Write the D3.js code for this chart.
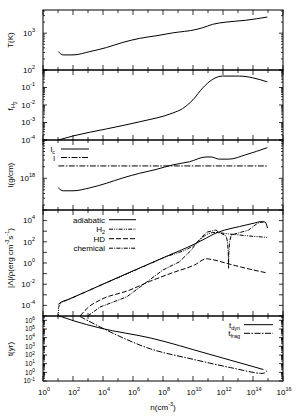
<!DOCTYPE html>
<html>
<head>
<meta charset="utf-8">
<script src="https://cdn.jsdelivr.net/npm/d3@7"></script>
<style>
  body { margin: 0; background: #fff; }
  text { font-family: "Liberation Sans", Arial, sans-serif; fill: #000; }
</style>
</head>
<body>
<svg id="chart" width="302" height="420"></svg>
<script>
// density grid n (cm^-3) and values, one pair of arrays per curve

// temperature
const tempN = [10.5, 22, 1e2, 1.3e3, 1.7e4, 2.1e5, 2.8e6, 3.5e7, 4.5e8, 1.6e10, 4.5e10, 2e11, 1.6e12, 3.2e13, 9e14];
const tempK = [316, 257, 257, 316, 407, 562, 724, 851, 1020, 1260, 1410, 1740, 2000, 2240, 2750];

// H2 fraction
const fracN = [10.5, 1e2, 1.7e4, 2.8e6, 4.5e8, 2e9, 1e10, 4.5e10, 2e11, 9.3e11, 1.3e13, 9.3e13, 9e14];
const fracH2 = [1e-4, 1.7e-4, 4.3e-4, 1.1e-3, 3.5e-3, 6.2e-3, 2.0e-2, 9.5e-2, 0.29, 0.45, 0.45, 0.36, 0.21];

// line masses
const lcN = [10.5, 22, 1e2, 1.3e3, 1.7e4, 2.1e5, 2.8e6, 3.5e7, 4.5e8, 5.8e9, 7.4e10, 1.6e11, 5.6e11, 2.5e12, 3.2e13, 9e14];
const lcVal = [5.6e17, 4.7e17, 4.7e17, 5.6e17, 7.4e17, 1.02e18, 1.35e18, 1.7e18, 2.24e18, 2.7e18, 3.6e18, 3.6e18, 3.16e18, 3.16e18, 4.1e18, 6.3e18];
const lN = [10.5, 9e14];
const lVal = [2.1e18, 2.1e18];

// heating / cooling rates
const adiaN = [10.5, 16, 38, 1e2, 1e4, 1e6, 1e8, 1.6e10, 7.9e10, 2.5e11, 1.26e12, 1.26e13, 1.26e14, 3.2e14, 6.3e14, 9.3e14];
const adiaVal = [1.26e-4, 2e-4, 3.2e-4, 5.7e-4, 1.02e-2, 0.18, 3.1, 72, 229, 550, 1260, 2750, 5900, 7900, 7400, 2000];
const h2N = [10.4, 11, 16, 38, 1e2, 1e4, 1e6, 1e8, 1.6e10, 5.8e10, 2.5e11, 2.5e12, 5.6e13, 8.7e14];
const h2Val = [6e-6, 6.3e-5, 1.8e-4, 3.0e-4, 5.5e-4, 1e-2, 0.17, 2.95, 69, 355, 760, 550, 355, 263];
const hdN = [295, 1e3, 6.3e3, 6e5, 1.26e7, 5.9e8, 1.26e10, 7.9e10, 1.6e11, 2.5e12, 5.6e13, 8.7e14];
const hdVal = [1e-5, 6.3e-5, 3.2e-4, 2.8e-3, 1.8e-2, 0.14, 0.65, 2.5, 2.2, 0.81, 0.27, 0.115];
const chemN = [980, 6.3e3, 3.8e5, 1.5e7, 1e8, 1.26e9, 7.9e9, 1.6e10, 7.9e10, 3.2e11, 1.6e12, 2e12, 2.24e12, 2.34e12, 2.45e12, 2.75e12, 3.55e12, 5e13, 2e14, 5e14];
const chemVal = [1e-5, 7e-5, 6.3e-4, 3e-2, 0.22, 1.32, 17, 72, 800, 1260, 355, 100, 10, 0.32, 10, 100, 440, 1260, 5600, 7900];

// time scales (yr)
const dynN = [10.5, 1.05e2, 6.3e3, 1.5e7, 1e11, 5e14];
const dynYr = [3.5e6, 9.1e5, 1.3e5, 9.1e3, 1.35e2, 2.1];
const fragN = [290, 6.3e4, 1.5e7, 1e10, 3.2e12, 3.2e14, 6.3e14, 8.3e14, 6.3e14];
const fragYr = [2.8e6, 2.5e4, 5e2, 32, 3.5, 0.76, 0.89, 1.4, 2.1];

// axis ticks
const nDecades = d3.range(0, 17);
const tempLabels = [1e2, 1e3];
const fracLabels = [1e-4, 1e-3, 1e-2, 1e-1];
const lLabels = [1e18];
const rateLabels = [1e-4, 1e-2, 1, 1e2, 1e4];
const timeLabels = [1e-1, 1, 1e1, 1e2, 1e3, 1e4, 1e5, 1e6];

// line styles
const dashL = "6,1.5,1.5,1.5";
const dashH2 = "4,1.2,1,1.2,1,1.2";
const dashHD = "5,2";
const dashChem = "4,1.2,1,1.2";

// layout
const X0 = 43, X1 = 283;
const svg = d3.select("#chart");
const x = d3.scaleLog().domain([1, 1e16]).range([X0, X1]);

const panels = [
  { top: 10, bottom: 70, domain: [1e2, Math.pow(10, 3.63)], labels: tempLabels, minor: true, fs: 8, sup: 5.5, rise: 4 },
  { top: 70, bottom: 140, domain: [1e-4, 1], labels: fracLabels, minor: true, fs: 8, sup: 5.5, rise: 4 },
  { top: 140, bottom: 210, domain: [Math.pow(10, 17.17), 1e19], labels: lLabels, minor: true, fs: 8, sup: 5.5, rise: 4 },
  { top: 210, bottom: 316, domain: [1e-5, 1e5], labels: rateLabels, minor: false, fs: 8, sup: 5.5, rise: 4 },
  { top: 316, bottom: 381, domain: [1e-1, Math.pow(10, 6.5)], labels: timeLabels, minor: true, fs: 6.5, sup: 4.8, rise: 2.6 }
];

function expOf(v) { return Math.round(Math.log10(v)); }

function tickValues(dom, minor) {
  const lo = Math.floor(Math.log10(dom[0]) - 1e-9), hi = Math.ceil(Math.log10(dom[1]) + 1e-9);
  const out = [];
  for (let k = lo; k <= hi; k++) {
    for (let m = 1; m <= 9; m++) {
      if (!minor && m > 1) break;
      const v = m * Math.pow(10, k);
      if (v >= dom[0] * 0.999 && v <= dom[1] * 1.001) out.push({ v: v, major: m === 1 });
    }
  }
  return out;
}

function powLabel(sel, v, size, supSize, rise) {
  sel.append("tspan").text("10").style("font-size", size + "px");
  sel.append("tspan").attr("dy", -rise).text(expOf(v)).style("font-size", supSize + "px");
}

panels.forEach((p, i) => {
  p.y = d3.scaleLog().domain(p.domain).range([p.bottom, p.top]);

  svg.append("clipPath").attr("id", "clip" + i)
    .append("rect").attr("x", X0).attr("y", p.top)
    .attr("width", X1 - X0).attr("height", p.bottom - p.top);

  const ticks = tickValues(p.domain, p.minor);
  const tk = svg.append("g").attr("stroke", "#000").attr("stroke-width", 0.8);
  ticks.forEach(t => {
    const yy = p.y(t.v), len = t.major ? 4 : 2;
    tk.append("line").attr("x1", X0).attr("x2", X0 + len).attr("y1", yy).attr("y2", yy);
    tk.append("line").attr("x1", X1).attr("x2", X1 - len).attr("y1", yy).attr("y2", yy);
  });

  // x ticks on top and bottom of each panel
  nDecades.forEach(k => {
    const xx = x(Math.pow(10, k)), len = k % 2 === 0 ? 5 : 3;
    tk.append("line").attr("x1", xx).attr("x2", xx).attr("y1", p.top).attr("y2", p.top + len);
    tk.append("line").attr("x1", xx).attr("x2", xx).attr("y1", p.bottom).attr("y2", p.bottom - len);
  });

  svg.append("rect").attr("x", X0).attr("y", p.top)
    .attr("width", X1 - X0).attr("height", p.bottom - p.top)
    .attr("fill", "none").attr("stroke", "#000").attr("stroke-width", 1);

  p.labels.forEach(v => {
    const t = svg.append("text").attr("x", 35).attr("y", p.y(v) + p.fs * 0.36).attr("text-anchor", "end");
    powLabel(t, v, p.fs, p.sup, p.rise);
  });
});

// x tick labels
nDecades.filter(k => k % 2 === 0).forEach(k => {
  const t = svg.append("text").attr("x", x(Math.pow(10, k)) + 1).attr("y", 395).attr("text-anchor", "middle");
  powLabel(t, Math.pow(10, k), 8, 5.5, 4);
});

const xt = svg.append("text").attr("x", 163).attr("y", 410).attr("text-anchor", "middle").style("font-size", "8px");
xt.append("tspan").text("n(cm");
xt.append("tspan").attr("dy", -4).style("font-size", "5.5px").text("-3");
xt.append("tspan").attr("dy", 4).text(")");

// y titles
function yTitle(cx, cy, build) {
  const t = svg.append("text").attr("transform", `translate(${cx},${cy}) rotate(-90)`)
    .attr("text-anchor", "middle").style("font-size", "8px");
  build(t);
}
yTitle(13, 40, t => t.text("T(K)"));
yTitle(13, 106, t => {
  t.append("tspan").text("f");
  t.append("tspan").attr("dy", 2).style("font-size", "6px").text("H");
  t.append("tspan").attr("dy", 1.5).style("font-size", "4.5px").text("2");
});
yTitle(13, 175, t => t.text("l(g/cm)"));
yTitle(13, 258, t => {
  t.append("tspan").text("|Λ|/ρ(erg cm");
  t.append("tspan").attr("dy", -4).style("font-size", "5.5px").text("-3");
  t.append("tspan").attr("dy", 4).text("s");
  t.append("tspan").attr("dy", -4).style("font-size", "5.5px").text("-1");
  t.append("tspan").attr("dy", 4).text(")");
});
yTitle(13, 349, t => t.text("t(yr)"));

// curves
function curve(pi, nArr, vArr, dash, curveType) {
  const p = panels[pi];
  const pts = nArr.map((n, i) => [n, vArr[i]]);
  const line = d3.line().x(d => x(d[0])).y(d => p.y(d[1])).curve(curveType || d3.curveMonotoneX);
  svg.append("path").attr("clip-path", `url(#clip${pi})`)
    .attr("d", line(pts)).attr("fill", "none").attr("stroke", "#000")
    .attr("stroke-width", 1).attr("stroke-dasharray", dash || null);
}

curve(0, tempN, tempK);
curve(1, fracN, fracH2);
curve(2, lcN, lcVal);
curve(2, lN, lVal, dashL);
curve(3, adiaN, adiaVal);
curve(3, h2N, h2Val, dashH2);
curve(3, hdN, hdVal, dashHD);
curve(3, chemN, chemVal, dashChem, d3.curveLinear);
curve(4, dynN, dynYr);
curve(4, fragN, fragYr, dashL, d3.curveCatmullRom);

// legends
function legend(items, xText, xl0, xl1, y0, dy) {
  items.forEach((it, i) => {
    const yy = y0 + i * dy;
    const t = svg.append("text").attr("x", xText).attr("y", yy + 3).attr("text-anchor", "end").style("font-size", "8px");
    it.label(t);
    svg.append("line").attr("x1", xl0).attr("x2", xl1).attr("y1", yy).attr("y2", yy)
      .attr("stroke", "#000").attr("stroke-width", 1).attr("stroke-dasharray", it.dash || null);
  });
}

legend([
  { label: t => { t.append("tspan").text("l"); t.append("tspan").attr("dy", 2).style("font-size", "5.5px").text("c"); } },
  { label: t => t.text("l"), dash: dashL }
], 55, 61, 89, 149, 8.5);

legend([
  { label: t => t.text("adiabatic") },
  { label: t => { t.append("tspan").text("H"); t.append("tspan").attr("dy", 2).style("font-size", "5.5px").text("2"); }, dash: dashH2 },
  { label: t => t.text("HD"), dash: dashHD },
  { label: t => t.text("chemical"), dash: dashChem }
], 105, 109, 136, 219.7, 9.5);

legend([
  { label: t => { t.append("tspan").text("t"); t.append("tspan").attr("dy", 2).style("font-size", "5.5px").text("dyn"); } },
  { label: t => { t.append("tspan").text("t"); t.append("tspan").attr("dy", 2).style("font-size", "5.5px").text("frag"); }, dash: dashL }
], 240, 244, 273, 324.7, 8.6);
</script>
</body>
</html>
